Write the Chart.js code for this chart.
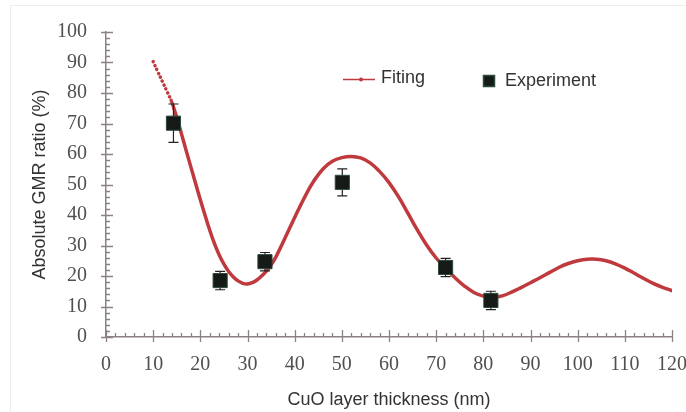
<!DOCTYPE html>
<html>
<head>
<meta charset="utf-8">
<script src="https://cdn.jsdelivr.net/npm/chart.js@4"></script>
<style>
    html, body { margin: 0; padding: 0; background: #fff; }
    #wrap { width: 686px; height: 412px; }
</style>
</head>
<body>
<div id="wrap"><canvas id="gmrChart" width="686" height="412"></canvas></div>
<script>
// --- Data ---

// Fitting curve (thickness in nm, GMR ratio in %)
const fitX = [10, 11, 12, 13, 14, 15, 16, 17, 18, 19, 20, 21, 22, 23, 24, 25, 26, 27, 28, 29,
    30, 31, 32, 33, 34, 35, 36, 37, 38, 39, 40, 41, 42, 43, 44, 46, 48, 50, 52, 54,
    56, 58, 60, 62, 64, 66, 68, 70, 72, 74, 76, 78, 80, 82, 84, 86, 88, 90, 92, 94,
    96, 98, 100, 102, 104, 106, 108, 110, 112, 114, 116, 118, 120];
const fitY = [90.3, 86.9, 83.6, 80.3, 76.8, 72.0, 66.6, 61.1, 55.7, 50.3, 45.0, 39.9, 35.0, 30.6, 26.9, 23.9, 21.5, 19.7, 18.4, 17.6,
    17.4, 17.8, 18.7, 20.0, 21.6, 23.6, 26.2, 29.3, 32.6, 35.9, 39.2, 42.4, 45.5, 48.4, 51.0, 55.1, 57.6, 58.8, 59.2, 58.7,
    57.1, 54.3, 50.6, 46.0, 40.6, 35.1, 30.1, 25.9, 22.5, 19.4, 16.7, 14.6, 13.4, 13.0, 13.5, 14.7, 16.2, 17.8, 19.4, 21.1,
    22.8, 24.1, 25.0, 25.5, 25.5, 25.0, 24.0, 22.6, 20.9, 19.2, 17.6, 16.3, 15.2];

// Experimental points with error bars
const expX = [14.3, 24.2, 33.7, 50.1, 72.0, 81.6];
const expY = [70.1, 18.5, 24.7, 50.7, 22.8, 12.0];
const expErr = [6.3, 3.0, 3.0, 4.4, 3.0, 3.0];

// Axis ranges
const xRange = [0, 120];
const yRange = [0, 100];

// --- Styles ---
const fitColor = '#bf393d';
const axisColor = '#8c8282';
const tickFont = { family: 'Liberation Serif', size: 20 };
const textFont = 'Liberation Sans';

// Minor/major tick marks, drawn by hand so they cross the axis like the original
const tickMarks = {
    id: 'tickMarks',
    beforeDatasetsDraw(chart) {
        const { ctx, scales: { x, y } } = chart;
        ctx.save();
        ctx.strokeStyle = axisColor;
        ctx.lineWidth = 1.3;
        ctx.beginPath();
        for (let v = xRange[0]; v <= xRange[1]; v += 2) {
            const px = Math.round(x.getPixelForValue(v)) + 0.5;
            const major = v % 10 === 0;
            ctx.moveTo(px, y.bottom - (major ? 7 : 4));
            ctx.lineTo(px, y.bottom + (major ? 5 : 0));
        }
        for (let v = yRange[0]; v <= yRange[1]; v += 2) {
            const py = Math.round(y.getPixelForValue(v)) + 0.5;
            const major = v % 10 === 0;
            ctx.moveTo(x.left - (major ? 5 : 0), py);
            ctx.lineTo(x.left + (major ? 7 : 4), py);
        }
        ctx.stroke();
        ctx.restore();
    }
};

// Error bars, drawn just before the square markers
const errorBars = {
    id: 'errorBars',
    beforeDatasetDraw(chart, args) {
        if (args.index !== 0) return;
        const { ctx, scales: { x, y } } = chart;
        ctx.save();
        ctx.strokeStyle = '#222';
        ctx.lineWidth = 1.2;
        expX.forEach((xv, i) => {
            const px = x.getPixelForValue(xv);
            const top = y.getPixelForValue(expY[i] + expErr[i]);
            const bot = y.getPixelForValue(expY[i] - expErr[i]);
            ctx.beginPath();
            ctx.moveTo(px, top); ctx.lineTo(px, bot);
            ctx.moveTo(px - 5, top); ctx.lineTo(px + 5, top);
            ctx.moveTo(px - 5, bot); ctx.lineTo(px + 5, bot);
            ctx.stroke();
        });
        ctx.restore();
    }
};

// Legend inside the plot plus the faint frame of the original image
const customLegend = {
    id: 'customLegend',
    beforeDraw(chart) {
        const { ctx } = chart;
        ctx.save();
        ctx.strokeStyle = '#ececec';
        ctx.lineWidth = 1;
        ctx.strokeRect(10.5, 5.5, 700, 420);
        ctx.restore();
    },
    afterDraw(chart) {
        const { ctx } = chart;
        ctx.save();
        // Fiting
        ctx.strokeStyle = fitColor;
        ctx.lineWidth = 1.5;
        ctx.beginPath();
        ctx.moveTo(343, 79.5); ctx.lineTo(375, 79.5);
        ctx.stroke();
        ctx.fillStyle = fitColor;
        ctx.beginPath();
        ctx.arc(361, 79.5, 2, 0, Math.PI * 2);
        ctx.fill();
        ctx.fillStyle = '#333';
        ctx.font = '18px ' + textFont;
        ctx.textBaseline = 'middle';
        ctx.fillText('Fiting', 381, 78);
        // Experiment
        ctx.fillStyle = '#151a17';
        ctx.strokeStyle = '#2e4a3c';
        ctx.fillRect(483, 75, 12, 12);
        ctx.strokeRect(483.5, 75.5, 11, 11);
        ctx.fillStyle = '#333';
        ctx.fillText('Experiment', 505, 81);
        ctx.restore();
    }
};

new Chart(document.getElementById('gmrChart'), {
    type: 'line',
    data: {
        datasets: [
            {
                label: 'Experiment',
                data: expX.map((xv, i) => ({ x: xv, y: expY[i] })),
                showLine: false,
                pointStyle: 'rect',
                pointRadius: 10,
                pointBackgroundColor: '#151a17',
                pointBorderColor: '#2e4a3c',
                pointBorderWidth: 1,
            },
            {
                label: 'Fiting',
                data: fitX.map((xv, i) => ({ x: xv, y: fitY[i] })),
                borderColor: fitColor,
                borderWidth: 3.5,
                borderCapStyle: 'round',
                tension: 0.4,
                pointRadius: 0,
                segment: {
                    // the steep start of the fit shows as separate dots
                    borderDash: c => c.p0.parsed.x < 14 ? [0.1, 4.2] : undefined,
                },
            }
        ]
    },
    options: {
        responsive: false,
        animation: false,
        layout: { padding: { top: 32, right: 0, left: 0, bottom: 0 } },
        plugins: {
            legend: { display: false },
            tooltip: { enabled: false },
        },
        scales: {
            x: {
                type: 'linear',
                min: xRange[0],
                max: xRange[1],
                afterFit: s => { s.height = 75; s.paddingRight = 14; },
                border: { display: true, color: axisColor, width: 1.5 },
                grid: { display: false, drawTicks: false },
                ticks: { stepSize: 10, padding: 16, color: '#505050', font: tickFont, maxRotation: 0 },
                title: {
                    display: true,
                    text: 'CuO layer thickness (nm)',
                    color: '#333',
                    font: { family: textFont, size: 18 },
                    padding: { top: 0, bottom: 1 },
                },
            },
            y: {
                min: yRange[0],
                max: yRange[1],
                afterFit: s => { s.width = 106; },
                border: { display: true, color: axisColor, width: 1.5 },
                grid: { display: false, drawTicks: false },
                ticks: { stepSize: 10, padding: 19, color: '#505050', font: tickFont },
                title: {
                    display: true,
                    text: 'Absolute GMR ratio (%)',
                    color: '#333',
                    font: { family: textFont, size: 18 },
                    padding: { top: 29, bottom: 0 },
                },
            }
        }
    },
    plugins: [tickMarks, errorBars, customLegend]
});
</script>
</body>
</html>
